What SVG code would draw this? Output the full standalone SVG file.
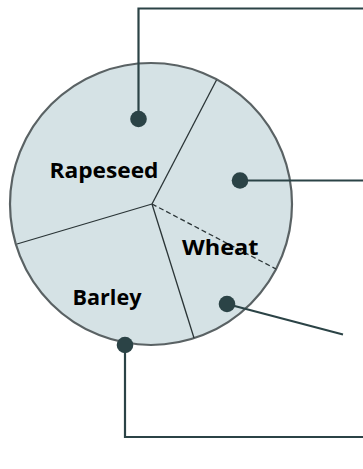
<svg xmlns="http://www.w3.org/2000/svg" width="363" height="469" viewBox="0 0 363 469">
<style>
.lbl{font-family:"Open Sans","Liberation Sans",sans-serif;font-weight:bold;font-size:22px;fill:#000}
.div{stroke:#2a3436;stroke-width:1.3;fill:none}
.con{stroke:#2b4346;stroke-width:2.2;fill:none}
.dot{fill:#2b4346}
</style>
<rect width="363" height="469" fill="#fff"/>
<g id="pie">
<circle cx="151" cy="204" r="141" fill="#d5e2e5" stroke="#5a6264" stroke-width="2.2"/>
<line class="div" x1="152" y1="204" x2="216.5" y2="80"/>
<line class="div" x1="152" y1="204" x2="17" y2="244"/>
<line class="div" x1="152" y1="204" x2="194" y2="338"/>
<line class="div" x1="152" y1="204" x2="276" y2="269" stroke-dasharray="5,3"/>
</g>
<g id="rapeseed"><text class="lbl" x="49.5" y="177.5" textLength="109" lengthAdjust="spacingAndGlyphs">Rapeseed</text></g>
<g id="wheat"><text class="lbl" x="182" y="255" textLength="76.5" lengthAdjust="spacingAndGlyphs">Wheat</text></g>
<g id="barley"><text class="lbl" x="72.5" y="305" textLength="69" lengthAdjust="spacingAndGlyphs">Barley</text></g>
<g id="connectors">
<polyline class="con" points="138.5,119 138.5,8.5 363,8.5"/>
<line class="con" x1="240" y1="180.5" x2="363" y2="180.5"/>
<line class="con" x1="227" y1="304" x2="343" y2="334.5"/>
<polyline class="con" points="125,345 125,437 363,437"/>
<circle class="dot" cx="138.5" cy="119" r="8.3"/>
<circle class="dot" cx="240" cy="180.5" r="8.3"/>
<circle class="dot" cx="227" cy="304" r="8.3"/>
<circle class="dot" cx="125" cy="345" r="8.3"/>
</g>
</svg>
